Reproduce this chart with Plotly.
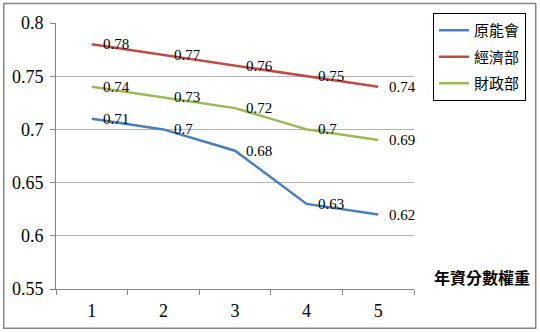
import plotly.graph_objects as go

categories = ["1", "2", "3", "4", "5"]
series_names = ["原能會", "經濟部", "財政部"]
aec = [0.71, 0.70, 0.68, 0.63, 0.62]
moea = [0.78, 0.77, 0.76, 0.75, 0.74]
mof = [0.74, 0.73, 0.72, 0.70, 0.69]
colors = ["#4A7EBB", "#BE4B48", "#98B954"]
y_ticks = [0.55, 0.6, 0.65, 0.7, 0.75, 0.8]
x_title = "年資分數權重"

serif = "Liberation Serif"
cjk = "Noto Sans CJK TC"

fig = go.Figure()
annotations = []
for name, vals, col in zip(series_names, [aec, moea, mof], colors):
    fig.add_trace(go.Scatter(x=categories, y=vals, name=name, mode="lines",
                             legendgroup=name,
                             line=dict(color=col, width=2.5)))
    for i, v in enumerate(vals):
        annotations.append(dict(x=i, y=v, xref="x", yref="y", text=f"{v:g}",
                                showarrow=False, xanchor="left", yanchor="middle",
                                xshift=9, font=dict(family=serif, size=15, color="#000")))

annotations.append(dict(x=1.33, y=0.045, xref="paper", yref="paper", text=x_title,
                        showarrow=False, xanchor="right", yanchor="middle",
                        font=dict(family=cjk, size=16, color="#000", weight="bold")))

fig.update_layout(
    template="none",
    width=540, height=332,
    margin=dict(l=56, r=126, t=23, b=43, autoexpand=False),
    paper_bgcolor="white", plot_bgcolor="white",
    font=dict(family=serif, size=16, color="#000"),
    showlegend=True,
    legend=dict(x=1.053, y=1.0376, xanchor="left", yanchor="top",
                bordercolor="#000", borderwidth=1, bgcolor="white",
                font=dict(family=cjk, size=15, color="#000"),
                tracegroupgap=4, itemwidth=30),
    annotations=annotations,
    shapes=[dict(type="rect", xref="paper", yref="paper",
                 x0=-0.146, x1=1.340, y0=-0.148, y1=1.073,
                 line=dict(color="#868686", width=1.5), fillcolor="rgba(0,0,0,0)",
                 layer="below")],
    xaxis=dict(type="category", showline=True, linecolor="#868686", linewidth=1,
               ticks="outside", tickson="boundaries", ticklen=5, tickcolor="#868686",
               showgrid=False, range=[-0.5, 4.5], automargin=False, ticklabelstandoff=5,
               tickfont=dict(family=serif, size=18, color="#000000")),
    yaxis=dict(range=[0.55, 0.8], tickvals=y_ticks, ticktext=[f"{t:g}" for t in y_ticks],
               showline=True, linecolor="#868686", linewidth=1, automargin=False,
               ticks="outside", ticklen=5, tickcolor="#868686", ticklabelstandoff=3,
               showgrid=True, gridcolor="#B3B3B3", gridwidth=1, zeroline=False,
               tickfont=dict(family=serif, size=18, color="#000000")),
)

fig.write_html("out.html")
